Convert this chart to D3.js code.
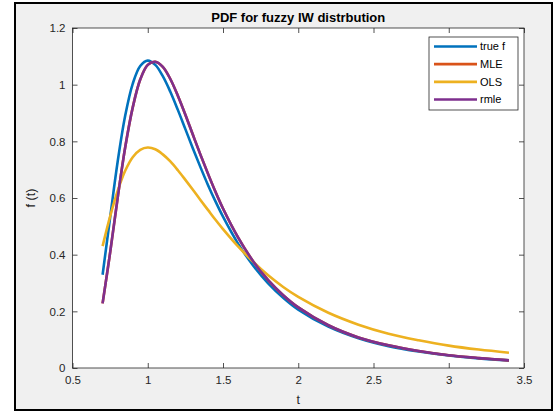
<!DOCTYPE html>
<html>
<head>
<meta charset="utf-8">
<script src="https://cdn.jsdelivr.net/npm/d3@7"></script>
<style>
  html, body { margin: 0; padding: 0; background: #ffffff; }
  svg { display: block; }
  text { font-family: "Liberation Sans", Arial, Helvetica, sans-serif; }
</style>
</head>
<body>
<svg id="chart" width="558" height="413"></svg>
<script>
// ---- data ----
const tValues = [0.70, 0.75, 0.80, 0.85, 0.90, 0.95, 1.00, 1.05, 1.10, 1.15, 1.20, 1.25, 1.30, 1.35, 1.40, 1.45, 1.50,
                 1.6, 1.7, 1.8, 1.9, 2.0, 2.2, 2.4, 2.6, 2.8, 3.0, 3.2, 3.4];
const trueF = [0.329, 0.531, 0.728, 0.890, 1.003, 1.066, 1.085, 1.070, 1.030, 0.975, 0.911, 0.843, 0.775, 0.709, 0.646, 0.588, 0.534,
               0.439, 0.362, 0.299, 0.248, 0.206, 0.146, 0.105, 0.077, 0.058, 0.044, 0.034, 0.027];
const mle   = [0.228, 0.407, 0.600, 0.778, 0.919, 1.018, 1.070, 1.081, 1.063, 1.020, 0.961, 0.894, 0.823, 0.753, 0.686, 0.622, 0.563,
               0.461, 0.377, 0.310, 0.257, 0.214, 0.151, 0.108, 0.080, 0.060, 0.045, 0.035, 0.027];
const ols   = [0.430, 0.535, 0.625, 0.696, 0.744, 0.770, 0.778, 0.772, 0.754, 0.729, 0.698, 0.664, 0.629, 0.593, 0.558, 0.523, 0.490,
               0.429, 0.375, 0.327, 0.286, 0.251, 0.195, 0.153, 0.121, 0.098, 0.079, 0.065, 0.054];
const rmle  = [0.228, 0.407, 0.600, 0.778, 0.919, 1.018, 1.070, 1.081, 1.063, 1.020, 0.961, 0.894, 0.823, 0.753, 0.686, 0.622, 0.563,
               0.461, 0.377, 0.310, 0.257, 0.214, 0.151, 0.108, 0.080, 0.060, 0.045, 0.035, 0.027];
const seriesNames = ["true f", "MLE", "OLS", "rmle"];
const seriesColors = ["#0072BD", "#D95319", "#EDB120", "#7E2F8E"];
const xTicks = [0.5, 1, 1.5, 2, 2.5, 3, 3.5];
const yTicks = [0, 0.2, 0.4, 0.6, 0.8, 1, 1.2];
const titleText = "PDF for fuzzy IW distrbution";
const xLabel = "t";
const yLabel = "f (t)";

// ---- layout ----
const svg = d3.select("#chart");
const plot = { left: 72.5, right: 524, top: 28, bottom: 368 };
const axisColor = "#262626";

// figure frame
svg.append("rect")
  .attr("x", 15).attr("y", 3).attr("width", 537).attr("height", 407)
  .attr("fill", "#f0f0f0").attr("stroke", "#000").attr("stroke-width", 2);

const x = d3.scaleLinear().domain([0.5, 3.5]).range([plot.left, plot.right]);
const y = d3.scaleLinear().domain([0, 1.2]).range([plot.bottom, plot.top]);

// axes background
svg.append("rect")
  .attr("x", plot.left).attr("y", plot.top)
  .attr("width", plot.right - plot.left).attr("height", plot.bottom - plot.top)
  .attr("fill", "#ffffff");

const fmt = d3.format("~g");

function styleAxis(g) {
  g.select(".domain").remove();
  g.selectAll(".tick line").attr("stroke", axisColor).attr("stroke-width", 0.8);
  g.selectAll(".tick text").attr("fill", axisColor).attr("font-size", "11.5px");
}

// bottom axis
svg.append("g")
  .attr("transform", `translate(0,${plot.bottom})`)
  .call(d3.axisBottom(x).tickValues(xTicks).tickFormat(fmt).tickSizeInner(-5).tickSizeOuter(0).tickPadding(8))
  .call(styleAxis);
// top axis (ticks only)
svg.append("g")
  .attr("transform", `translate(0,${plot.top})`)
  .call(d3.axisTop(x).tickValues(xTicks).tickFormat("").tickSizeInner(-5).tickSizeOuter(0))
  .call(styleAxis);
// left axis
svg.append("g")
  .attr("transform", `translate(${plot.left},0)`)
  .call(d3.axisLeft(y).tickValues(yTicks).tickFormat(fmt).tickSizeInner(-5).tickSizeOuter(0).tickPadding(7))
  .call(styleAxis);
// right axis (ticks only)
svg.append("g")
  .attr("transform", `translate(${plot.right},0)`)
  .call(d3.axisRight(y).tickValues(yTicks).tickFormat("").tickSizeInner(-5).tickSizeOuter(0))
  .call(styleAxis);

// hide ticks at the box corners (drawn over by box anyway)
// lines
const seriesData = [trueF, mle, ols, rmle];
const line = d3.line()
  .x((d, i) => x(tValues[i]))
  .y(d => y(d))
  .curve(d3.curveCatmullRom.alpha(0.5));

const clip = svg.append("clipPath").attr("id", "clip")
  .append("rect").attr("x", plot.left).attr("y", plot.top)
  .attr("width", plot.right - plot.left).attr("height", plot.bottom - plot.top);

svg.append("g").attr("clip-path", "url(#clip)")
  .selectAll("path.series")
  .data(seriesData)
  .join("path")
  .attr("class", "series")
  .attr("fill", "none")
  .attr("stroke", (d, i) => seriesColors[i])
  .attr("stroke-width", 2.6)
  .attr("stroke-linejoin", "round")
  .attr("stroke-linecap", "butt")
  .attr("d", d => line(d));

// axes box
svg.append("rect")
  .attr("x", plot.left).attr("y", plot.top)
  .attr("width", plot.right - plot.left).attr("height", plot.bottom - plot.top)
  .attr("fill", "none").attr("stroke", axisColor).attr("stroke-width", 0.8);

// title
svg.append("text")
  .attr("x", (plot.left + plot.right) / 2).attr("y", 22)
  .attr("text-anchor", "middle")
  .attr("font-size", "13px").attr("font-weight", "bold").attr("fill", "#000")
  .text(titleText);

// x label
svg.append("text")
  .attr("x", (plot.left + plot.right) / 2).attr("y", 404)
  .attr("text-anchor", "middle")
  .attr("font-size", "12.5px").attr("fill", axisColor)
  .text(xLabel);

// y label
svg.append("text")
  .attr("transform", `translate(35,${(plot.top + plot.bottom) / 2}) rotate(-90)`)
  .attr("text-anchor", "middle")
  .attr("font-size", "12.5px").attr("fill", axisColor)
  .text(yLabel);

// legend
const leg = { x: 429, y: 37, w: 89, h: 73 };
const legend = svg.append("g");
legend.append("rect")
  .attr("x", leg.x).attr("y", leg.y).attr("width", leg.w).attr("height", leg.h)
  .attr("fill", "#ffffff").attr("stroke", axisColor).attr("stroke-width", 0.8);
const rowY = d3.scalePoint().domain(seriesNames).range([leg.y + 9.5, leg.y + leg.h - 10.5]);
const rows = legend.selectAll("g.row").data(seriesNames).join("g").attr("class", "row");
rows.append("line")
  .attr("x1", leg.x + 5).attr("x2", leg.x + 48)
  .attr("y1", d => rowY(d)).attr("y2", d => rowY(d))
  .attr("stroke", (d, i) => seriesColors[i]).attr("stroke-width", 2.6);
rows.append("text")
  .attr("x", leg.x + 51).attr("y", d => rowY(d))
  .attr("dy", "0.35em")
  .attr("font-size", "11px").attr("fill", "#000")
  .text(d => d);
</script>
</body>
</html>
